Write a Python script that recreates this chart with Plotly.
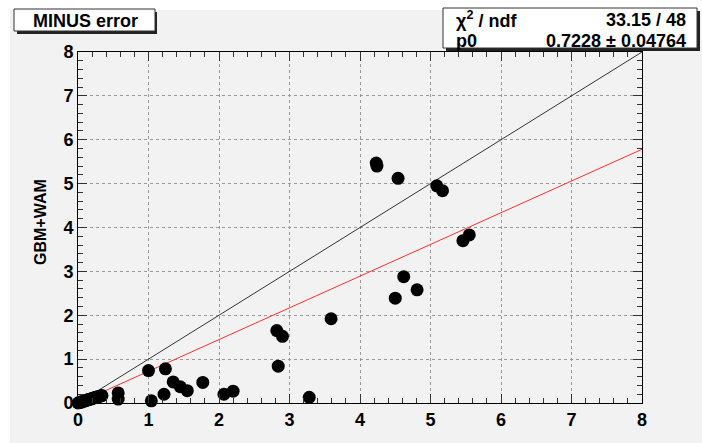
import plotly.graph_objects as go

# ---- data ----
x_vals = [0.00, 0.02, 0.03, 0.05, 0.06, 0.08, 0.09, 0.10, 0.12, 0.13, 0.15, 0.16,
          0.18, 0.20, 0.21, 0.23, 0.25, 0.26, 0.28, 0.30, 0.32, 0.34,
          0.57, 0.57, 1.00, 1.04, 1.24, 1.22, 1.35, 1.45, 1.55, 1.77, 2.07, 2.20,
          2.84, 3.28, 2.82, 2.90, 3.59, 4.23, 4.24, 4.54, 5.09, 5.17, 5.46, 5.55,
          4.62, 4.81, 4.50]
y_vals = [0.00, 0.01, 0.02, 0.02, 0.03, 0.04, 0.05, 0.05, 0.06, 0.07, 0.08, 0.08,
          0.09, 0.10, 0.11, 0.12, 0.13, 0.13, 0.14, 0.15, 0.16, 0.17,
          0.23, 0.09, 0.74, 0.05, 0.78, 0.20, 0.48, 0.37, 0.28, 0.47, 0.20, 0.27,
          0.84, 0.13, 1.65, 1.52, 1.92, 5.47, 5.40, 5.12, 4.95, 4.84, 3.70, 3.83,
          2.88, 2.58, 2.39]
fit_p0 = 0.7228
diag_x = [0, 8]
title_text = "MINUS error"
y_title = "GBM+WAM"
stats_rows = [("χ<sup>2</sup> / ndf", "33.15 / 48"), ("p0", "0.7228 ± 0.04764")]

W, H = 702, 443
L, R, T, B = 78, 642, 52, 403


def px(xp):
    return (xp - L) / (R - L)


def py(yp):
    return (B - yp) / (B - T)


FONT = "Liberation Sans"
BG = "#f2f2f2"

fig = go.Figure()
fig.add_trace(go.Scatter(x=diag_x, y=diag_x, mode="lines",
                         line=dict(color="#333333", width=1), showlegend=False, hoverinfo="skip"))
fig.add_trace(go.Scatter(x=diag_x, y=[fit_p0 * v for v in diag_x], mode="lines",
                         line=dict(color="#ff3030", width=1), showlegend=False, hoverinfo="skip"))
fig.add_trace(go.Scatter(x=x_vals, y=y_vals, mode="markers",
                         marker=dict(color="black", size=13), showlegend=False, cliponaxis=False))

axis_common = dict(
    range=[0, 8], dtick=1, tick0=0,
    showline=True, linecolor="black", linewidth=1, mirror="ticks",
    ticks="inside", ticklen=9, tickcolor="#333", tickwidth=1,
    minor=dict(dtick=0.2, ticks="inside", ticklen=5, tickcolor="#333", showgrid=False),
    showgrid=True, gridcolor="#999999", griddash="dot", gridwidth=1,
    zeroline=False,
    tickfont=dict(family=FONT, size=18, color="black", weight="bold"),
)

fig.update_layout(
    width=W, height=H,
    margin=dict(l=L, r=W - R, t=T, b=H - B),
    paper_bgcolor=BG, plot_bgcolor=BG,
    xaxis=dict(**axis_common),
    yaxis=dict(**axis_common),
)

shapes = [
    # white strips on top and left edge
    dict(type="rect", xref="paper", yref="paper", x0=px(0), x1=px(W), y0=py(10), y1=py(0),
         fillcolor="white", line=dict(width=0), layer="below"),
    dict(type="rect", xref="paper", yref="paper", x0=px(0), x1=px(10), y0=py(H), y1=py(0),
         fillcolor="white", line=dict(width=0), layer="below"),
    # title box shadow + box
    dict(type="rect", xref="paper", yref="paper", x0=px(17), x1=px(157), y0=py(34), y1=py(12),
         fillcolor="#222", line=dict(width=0)),
    dict(type="rect", xref="paper", yref="paper", x0=px(14), x1=px(155), y0=py(31), y1=py(9),
         fillcolor="white", line=dict(color="#333", width=1)),
    # stats box shadow + box
    dict(type="rect", xref="paper", yref="paper", x0=px(446), x1=px(700), y0=py(51), y1=py(11),
         fillcolor="#222", line=dict(width=0)),
    dict(type="rect", xref="paper", yref="paper", x0=px(443), x1=px(697), y0=py(48), y1=py(8),
         fillcolor="white", line=dict(color="#333", width=1)),
]
fig.update_layout(shapes=shapes)

ann = [
    dict(text=title_text, x=px(85), y=py(20.5), xref="paper", yref="paper",
         showarrow=False, xanchor="center", yanchor="middle",
         font=dict(family=FONT, size=18, color="black", weight="bold")),
    dict(text=y_title, x=px(40), y=py(222), xref="paper", yref="paper", textangle=-90,
         showarrow=False, xanchor="center", yanchor="middle",
         font=dict(family=FONT, size=16, color="black", weight="bold")),
]
row_y = [20, 41]
for (lab, val), yy in zip(stats_rows, row_y):
    ann.append(dict(text=lab, x=px(454), y=py(yy), xref="paper", yref="paper",
                    showarrow=False, xanchor="left", yanchor="middle",
                    font=dict(family=FONT, size=18, color="black", weight="bold")))
    ann.append(dict(text=val, x=px(688), y=py(yy), xref="paper", yref="paper",
                    showarrow=False, xanchor="right", yanchor="middle",
                    font=dict(family=FONT, size=18, color="black", weight="bold")))
fig.update_layout(annotations=ann)

fig.write_html("out.html")
